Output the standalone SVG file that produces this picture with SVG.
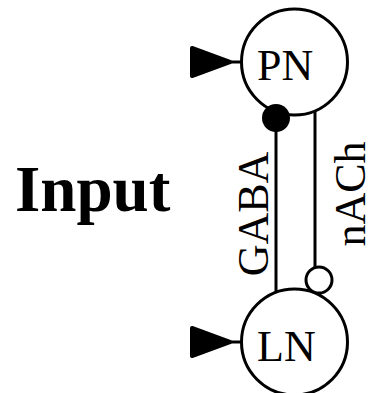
<svg xmlns="http://www.w3.org/2000/svg" width="376" height="393" viewBox="0 0 376 393">
<style>
.ln{stroke:#000;stroke-width:3;fill:none}
.node{stroke:#000;stroke-width:3;fill:#fff}
.lbl{font-family:"Liberation Serif","Times New Roman",serif;font-size:44px;fill:#000}
.arr{fill:#000;stroke:#000;stroke-width:4;stroke-linejoin:round}
</style>
<rect width="376" height="393" fill="#fff"/>
<text x="15" y="211" font-family="Liberation Serif, Times New Roman, serif" font-size="65" font-weight="bold">Input</text>
<g id="connectors">
<line class="ln" x1="276" y1="118" x2="276" y2="292"/>
<line class="ln" x1="315" y1="110" x2="315" y2="267"/>
<line class="ln" x1="230" y1="62" x2="241" y2="62"/>
<line class="ln" x1="230" y1="342" x2="241" y2="342"/>
<polygon class="arr" points="192,48 230,62 192,76"/>
<polygon class="arr" points="192,328 230,342 192,356"/>
<text class="lbl" text-anchor="middle" transform="translate(268,214) rotate(-90)">GABA</text>
<text class="lbl" text-anchor="middle" transform="translate(365,194) rotate(-90)">nACh</text>
</g>
<g id="PN">
<circle class="node" cx="294.5" cy="62" r="53"/>
<text class="lbl" x="257" y="80">PN</text>
</g>
<g id="LN">
<circle class="node" cx="294.5" cy="342" r="53"/>
<text class="lbl" x="257" y="361">LN</text>
</g>
<g id="synapses">
<circle cx="276" cy="118" r="14" fill="#000"/>
<circle class="node" cx="319" cy="280" r="13"/>
</g>
</svg>
